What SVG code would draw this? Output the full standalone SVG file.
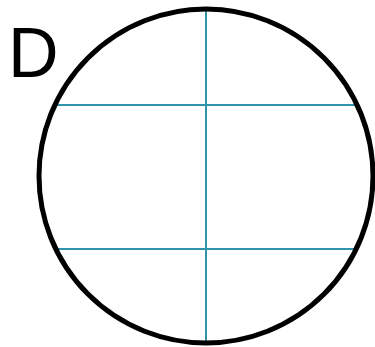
<svg xmlns="http://www.w3.org/2000/svg" width="375" height="347" viewBox="0 0 375 347">
<style>
.grid{stroke:#3092ab;stroke-width:2;fill:none}
.outline{stroke:#000;stroke-width:5;fill:none}
.lbl{font-family:"Liberation Sans",Arial,sans-serif;font-size:70px;fill:#000}
</style>
<rect width="375" height="347" fill="#fff"/>
<g id="connectors">
<line class="grid" x1="206" y1="9" x2="206" y2="344"/>
<line class="grid" x1="54.5" y1="105" x2="357.5" y2="105"/>
<line class="grid" x1="55.5" y1="249" x2="356.5" y2="249"/>
</g>
<g id="circle">
<circle class="outline" cx="206" cy="176" r="167"/>
</g>
<g id="label">
<text class="lbl" x="8" y="77">D</text>
</g>
</svg>
